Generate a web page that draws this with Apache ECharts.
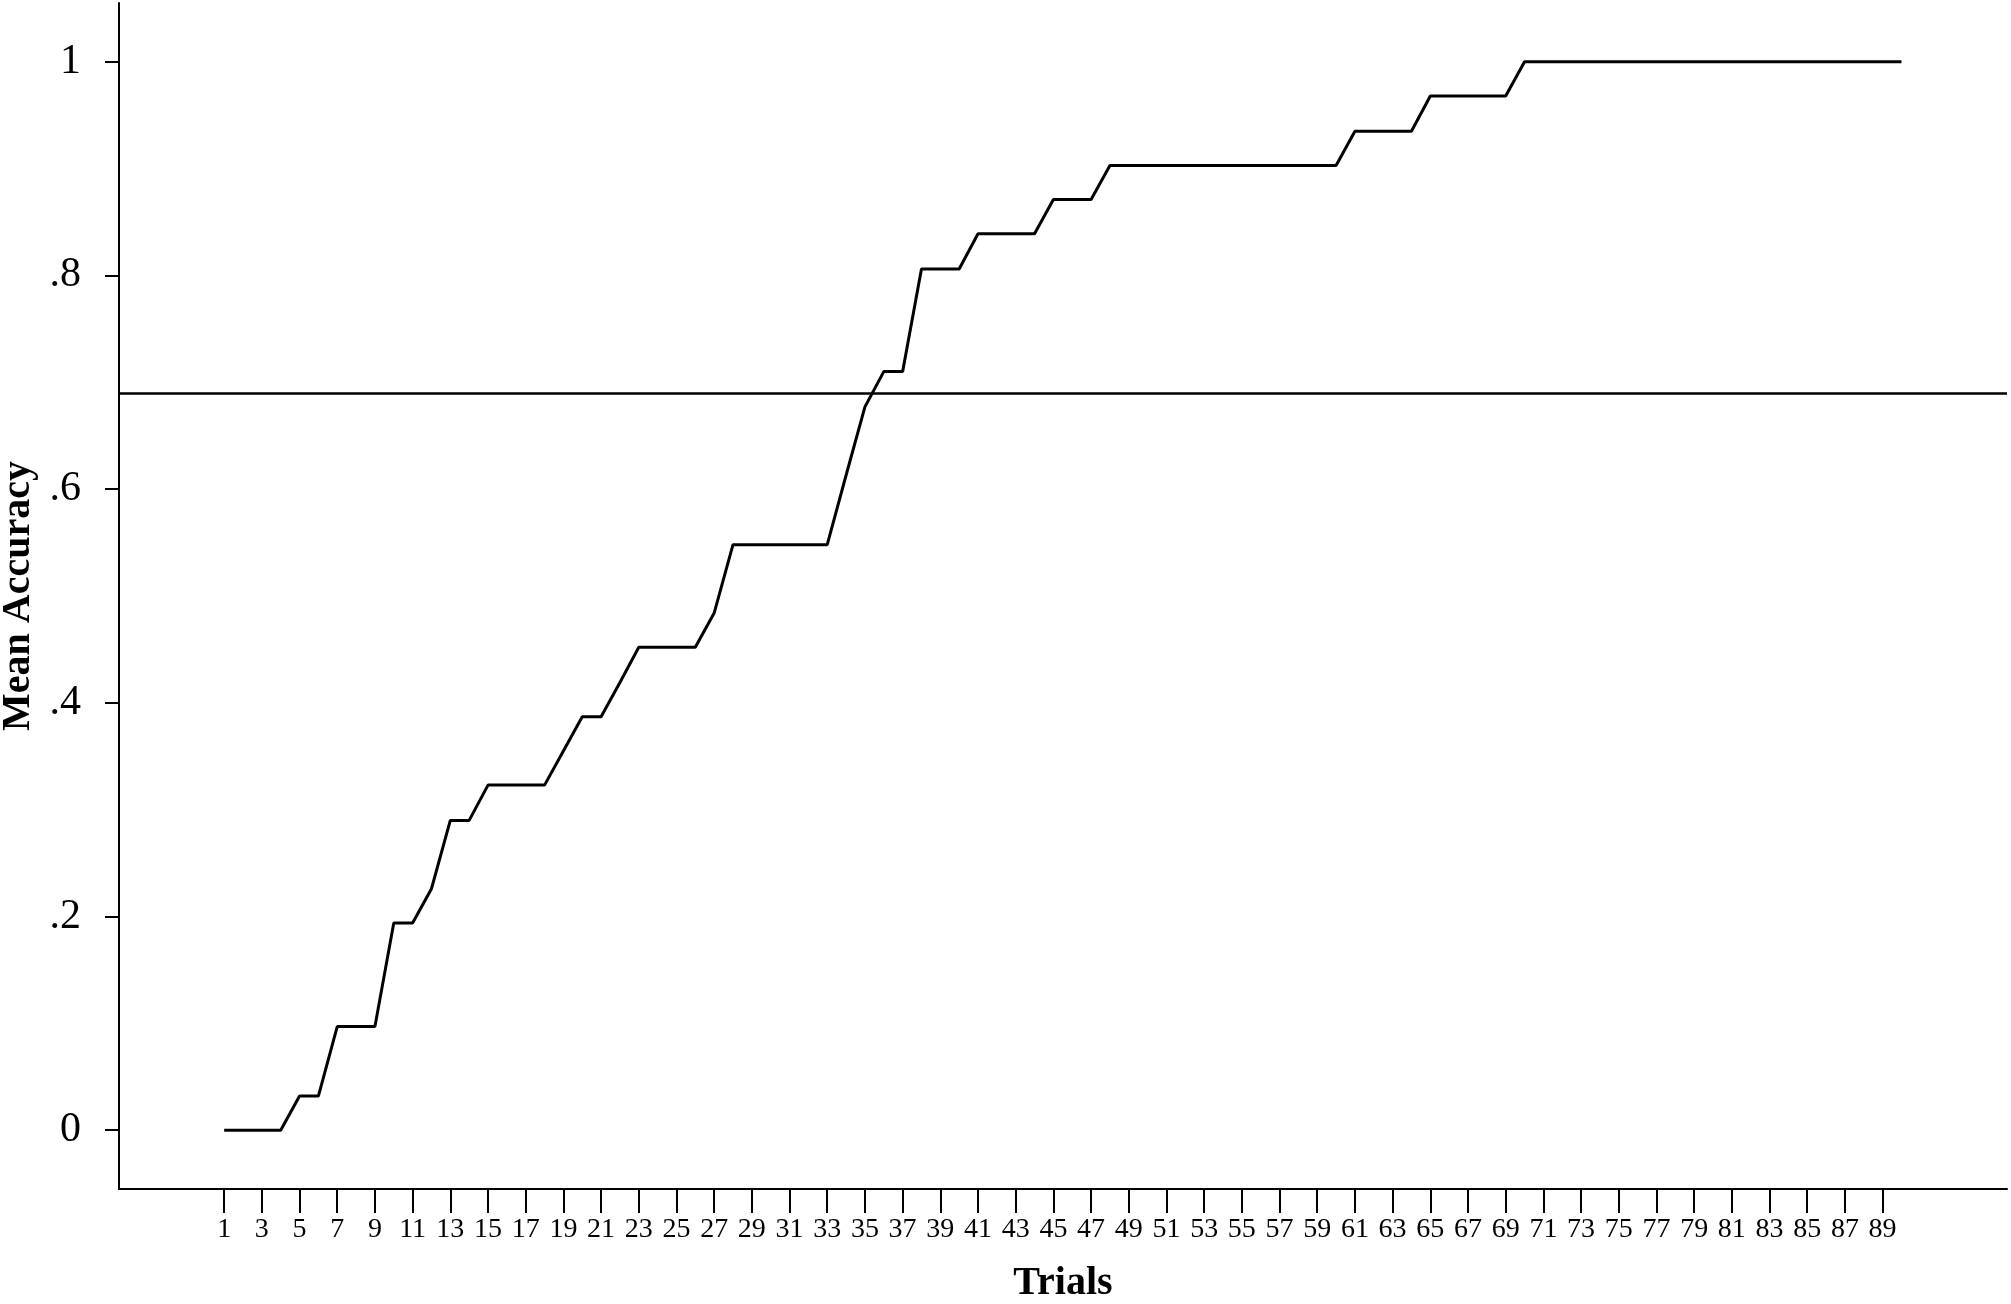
<!DOCTYPE html>
<html>
<head>
<meta charset="utf-8">
<script src="https://cdn.jsdelivr.net/npm/echarts@6/dist/echarts.min.js"></script>
<style>
  html, body { margin: 0; padding: 0; background: #fff; }
  #chart { width: 2011px; height: 1304px; }
</style>
</head>
<body>
<div id="chart"></div>
<script>
const trials = [1,2,3,4,5,6,7,8,9,10,11,12,13,14,15,16,17,18,19,20,21,22,23,24,25,26,27,28,29,30,
  31,32,33,34,35,36,37,38,39,40,41,42,43,44,45,46,47,48,49,50,51,52,53,54,55,56,57,58,59,60,
  61,62,63,64,65,66,67,68,69,70,71,72,73,74,75,76,77,78,79,80,81,82,83,84,85,86,87,88,89,90];

const meanAccuracy = [0,0,0,0,0.032,0.032,0.097,0.097,0.097,0.194,
  0.194,0.226,0.290,0.290,0.323,0.323,0.323,0.323,0.355,0.387,
  0.387,0.419,0.452,0.452,0.452,0.452,0.484,0.548,0.548,0.548,
  0.548,0.548,0.548,0.613,0.677,0.710,0.710,0.806,0.806,0.806,
  0.839,0.839,0.839,0.839,0.871,0.871,0.871,0.903,0.903,0.903,
  0.903,0.903,0.903,0.903,0.903,0.903,0.903,0.903,0.903,0.903,
  0.935,0.935,0.935,0.935,0.968,0.968,0.968,0.968,0.968,1,
  1,1,1,1,1,1,1,1,1,1,1,1,1,1,1,1,1,1,1,1];

const referenceLevel = [0.694];

const xTicks = [1,3,5,7,9,11,13,15,17,19,21,23,25,27,29,31,33,35,37,39,41,43,45,47,49,
  51,53,55,57,59,61,63,65,67,69,71,73,75,77,79,81,83,85,87,89];

const yTicks = [0, 0.2, 0.4, 0.6, 0.8, 1];
const yTickLabels = ["0", ".2", ".4", ".6", ".8", "1"];

const serif = "'Liberation Serif', 'DejaVu Serif', serif";

const chart = echarts.init(document.getElementById('chart'), null, { renderer: 'canvas' });

chart.setOption({
  animation: false,
  backgroundColor: '#ffffff',
  grid: { left: 119, right: 4, top: 3, bottom: 115, containLabel: false, outerBoundsMode: 'none' },
  xAxis: {
    type: 'value',
    min: -4.58,
    max: 95.6,
    name: 'Trials',
    nameLocation: 'middle',
    nameGap: 75,
    nameTextStyle: { fontFamily: serif, fontWeight: 'bold', fontSize: 40, color: '#000' },
    axisLine: { show: true, onZero: false, lineStyle: { color: '#000', width: 2 } },
    axisTick: { show: true, customValues: xTicks, length: 24, inside: false, lineStyle: { color: '#000', width: 2 } },
    axisLabel: { customValues: xTicks, margin: 27, fontFamily: serif, fontSize: 28, color: '#000' },
    splitLine: { show: false }
  },
  yAxis: {
    type: 'value',
    min: -0.055,
    max: 1.055,
    name: 'Mean Accuracy',
    nameLocation: 'middle',
    nameGap: 76,
    nameTextStyle: { fontFamily: serif, fontWeight: 'bold', fontSize: 40, color: '#000' },
    axisLine: { show: true, onZero: false, lineStyle: { color: '#000', width: 2 } },
    axisTick: { show: true, customValues: yTicks, length: 14, lineStyle: { color: '#000', width: 2 } },
    axisLabel: {
      customValues: yTicks,
      margin: 38,
      fontFamily: serif,
      fontSize: 42,
      color: '#000',
      formatter: function (v) {
        const i = yTicks.findIndex(t => Math.abs(t - v) < 1e-9);
        return i >= 0 ? yTickLabels[i] : '';
      }
    },
    splitLine: { show: false }
  },
  series: [{
    type: 'line',
    data: meanAccuracy.map((v, i) => [trials[i], v]),
    showSymbol: false,
    symbol: 'none',
    lineStyle: { color: '#000', width: 3 },
    markLine: {
      silent: true,
      symbol: ['none', 'none'],
      label: { show: false },
      lineStyle: { color: '#000', width: 2.5, type: 'solid' },
      data: referenceLevel.map(v => ({ yAxis: v }))
    }
  }]
});
</script>
</body>
</html>
